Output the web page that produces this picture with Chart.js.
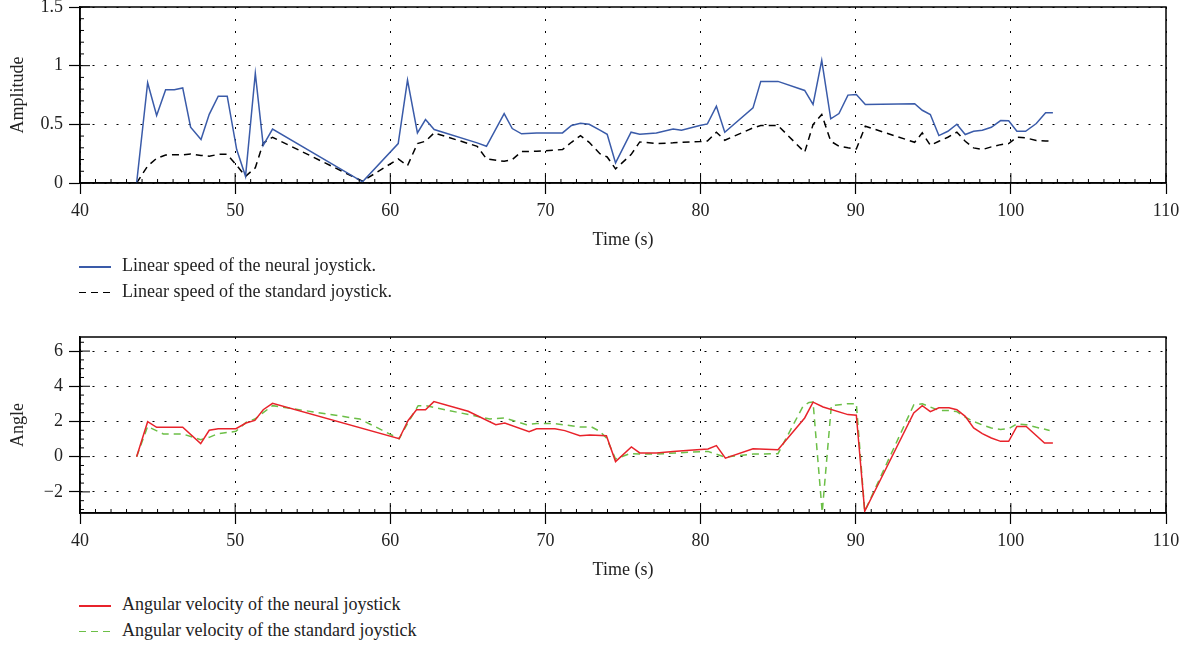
<!DOCTYPE html>
<html lang="en">

<head>
    <meta charset="UTF-8">
    <title>Linear speed and angular velocity</title>
    <script src="https://cdn.jsdelivr.net/npm/chart.js"></script>
    <style>
        body { margin: 0; background: #fff; font-family: "Liberation Serif", serif; color: #222; }
        .wrap { position: relative; width: 1199px; height: 647px; }
        canvas { position: absolute; left: 0; }
        .legend { position: absolute; left: 79px; font-size: 18px; }
        .legend div { height: 25.7px; line-height: 25.7px; white-space: nowrap; }
        .legend span { display: inline-block; width: 32px; height: 1.5px; vertical-align: middle; margin-right: 11px; }
    </style>
</head>

<body>
    <div class="wrap">
        <canvas id="speedChart" width="1199" height="255" style="top:0"></canvas>
        <div class="legend" style="top:253px">
            <div><span style="background:#3a5ba9"></span>Linear speed of the neural joystick.</div>
            <div><span style="background:repeating-linear-gradient(to right,#000 0 7px,transparent 7px 12px)"></span>Linear speed of the standard joystick.</div>
        </div>
        <canvas id="angleChart" width="1199" height="255" style="top:330px"></canvas>
        <div class="legend" style="top:592px">
            <div><span style="background:#e8232b"></span>Angular velocity of the neural joystick</div>
            <div><span style="background:repeating-linear-gradient(to right,#6cbf47 0 7px,transparent 7px 12px)"></span>Angular velocity of the standard joystick</div>
        </div>
    </div>
    <script>
        // top chart: time (s) and linear speed
        const timeLinear = [43.65, 44.36, 44.94, 45.52, 46.08, 46.62, 47.13, 47.80, 48.33, 48.91, 49.49, 50.10, 50.67, 51.30, 51.81, 52.41,
            58.21, 60.51, 61.11, 61.75, 62.27, 62.83, 65.60, 66.20, 67.34, 67.86, 68.46, 69.43, 71.10, 71.68, 72.26, 72.82, 73.51,
            73.98, 74.52, 75.52, 76.08, 77.15, 78.23, 78.77, 79.95, 80.44, 81.02, 81.56, 83.38, 83.88, 84.99, 86.71, 87.25, 87.81,
            88.39, 88.92, 89.50, 90.04, 90.62, 93.80, 94.29, 94.81, 95.36, 95.94, 96.52, 97.06, 97.60, 98.16, 98.74, 99.34, 99.86,
            100.39, 100.95, 101.64, 102.24, 102.71];
        const neuralLinear = [0, 0.855, 0.575, 0.795, 0.795, 0.81, 0.475, 0.37, 0.585, 0.74, 0.74, 0.285, 0.057, 0.935, 0.32, 0.46,
            0.01, 0.336, 0.877, 0.427, 0.541, 0.456, 0.342, 0.313, 0.592, 0.464, 0.419, 0.427, 0.427, 0.49, 0.51, 0.50, 0.45,
            0.415, 0.171, 0.433, 0.415, 0.427, 0.461, 0.45, 0.49, 0.504, 0.655, 0.433, 0.64, 0.866, 0.866, 0.789, 0.669, 1.045,
            0.547, 0.592, 0.749, 0.755, 0.669, 0.675, 0.62, 0.584, 0.404, 0.441, 0.501, 0.413, 0.441, 0.45, 0.475, 0.532, 0.53,
            0.441, 0.441, 0.507, 0.598, 0.598];
        const standardLinear = [0, 0.145, 0.21, 0.239, 0.24, 0.24, 0.248, 0.235, 0.228, 0.244, 0.244, 0.15, 0.057, 0.13, 0.34, 0.39,
            0.015, 0.205, 0.148, 0.336, 0.356, 0.427, 0.313, 0.205, 0.185, 0.199, 0.268, 0.27, 0.285, 0.347, 0.404, 0.347, 0.25,
            0.222, 0.12, 0.242, 0.35, 0.336, 0.342, 0.347, 0.353, 0.358, 0.433, 0.364, 0.47, 0.49, 0.49, 0.262, 0.498, 0.584,
            0.356, 0.313, 0.30, 0.29, 0.484, 0.347, 0.427, 0.321, 0.356, 0.39, 0.433, 0.356, 0.299, 0.285, 0.308, 0.327, 0.336,
            0.39, 0.385, 0.362, 0.358, 0.356];

        // bottom chart: angular velocity
        const timeAngNeural = [43.65, 44.36, 44.94, 46.62, 47.78, 48.33, 48.91, 50.05, 50.70, 51.27, 51.81, 52.41, 60.57, 61.15, 61.69,
            62.27, 62.81, 65.02, 66.80, 67.38, 68.95, 69.43, 70.61, 71.25, 72.22, 72.86, 73.93, 74.52, 75.54, 76.08, 77.15, 78.23,
            79.30, 80.48, 81.02, 81.60, 83.38, 84.99, 86.71, 87.25, 87.90, 89.50, 90.04, 90.58, 93.74, 94.29, 94.81, 95.36, 96.01,
            96.52, 97.06, 97.60, 98.16, 98.74, 99.34, 99.86, 100.39, 100.99, 102.17, 102.71];
        const neuralAngular = [0, 1.99, 1.67, 1.67, 0.74, 1.5, 1.59, 1.59, 1.91, 2.06, 2.67, 3.03, 1.02, 2.06, 2.67,
            2.67, 3.13, 2.58, 1.82, 1.91, 1.42, 1.59, 1.59, 1.48, 1.19, 1.23, 1.19, -0.28, 0.55, 0.21, 0.21, 0.30,
            0.36, 0.44, 0.63, -0.08, 0.45, 0.40, 2.2, 3.1, 2.82, 2.39, 2.36, -3.1, 2.48, 2.9, 2.56, 2.78, 2.78,
            2.67, 2.29, 1.63, 1.31, 1.06, 0.87, 0.87, 1.72, 1.72, 0.78, 0.78];
        const timeAngStandard = [43.65, 44.36, 45.37, 46.62, 47.78, 48.33, 48.91, 50.05, 50.70, 51.27, 51.81, 52.41, 58.04, 60.57, 61.15,
            61.80, 62.27, 66.42, 67.38, 68.78, 69.43, 70.61, 72.22, 72.97, 73.51, 73.93, 74.52, 75.44, 76.08, 77.15, 79.30, 80.48,
            81.56, 83.38, 84.99, 86.60, 86.99, 87.25, 87.84, 88.43, 89.50, 90.04, 90.58, 93.74, 94.29, 94.81, 95.36, 96.01, 96.52,
            97.06, 97.60, 98.16, 98.74, 99.34, 99.86, 100.39, 100.99, 101.64, 102.50];
        const standardAngular = [0, 1.72, 1.29, 1.29, 0.97, 1.1, 1.31, 1.44, 1.95, 2.14, 2.5, 2.9, 2.14, 1.02, 1.95,
            2.9, 2.9, 2.14, 2.2, 1.82, 1.88, 1.88, 1.69, 1.69, 1.44, 1.06, -0.13, 0.17, 0.15, 0.15, 0.25, 0.3,
            -0.02, 0.15, 0.17, 2.86, 3.08, 3.1, -3.16, 2.9, 3.01, 3.01, -3.1, 2.94, 3.01, 2.82, 2.63, 2.63, 2.56,
            2.25, 2.0, 1.8, 1.63, 1.55, 1.59, 1.86, 1.82, 1.67, 1.49];

        // axis ranges and tick labels
        const timeRange = [40, 110];
        const timeTicks = [40, 50, 60, 70, 80, 90, 100, 110];
        const speedRange = [0, 1.5];
        const speedTicks = [0, 0.5, 1, 1.5];
        const angleRange = [-3.2, 6.8];
        const angleTicks = [-2, 0, 2, 4, 6];

        const FONT = { family: "'Liberation Serif', serif", size: 18 };

        function points(xs, ys) {
            return xs.map((x, i) => ({ x: x, y: ys[i] }));
        }

        // frame round the plot plus small inner ticks
        const framePlugin = {
            id: 'frame',
            afterDraw(chart, args, opts) {
                const { ctx, chartArea: a, scales } = chart;
                ctx.save();
                ctx.strokeStyle = '#000';
                ctx.lineWidth = 1.5;
                ctx.strokeRect(a.left, a.top, a.width, a.height);
                ctx.lineWidth = 1;
                ctx.beginPath();
                const xs = scales.x, ys = scales.y;
                const nx = Math.round((xs.max - xs.min) / opts.xMinor);
                for (let i = 0; i <= nx; i++) {
                    const px = xs.getPixelForValue(xs.min + i * opts.xMinor);
                    const len = (i % opts.xEvery === 0) ? 10 : 4;
                    ctx.moveTo(px, a.bottom);
                    ctx.lineTo(px, a.bottom - len);
                }
                const start = Math.ceil(ys.min / opts.yMinor - 1e-9);
                const end = Math.floor(ys.max / opts.yMinor + 1e-9);
                for (let k = start; k <= end; k++) {
                    const py = ys.getPixelForValue(k * opts.yMinor);
                    const len = (k % opts.yEvery === 0) ? 10 : 4;
                    ctx.moveTo(a.left, py);
                    ctx.lineTo(a.left + len, py);
                }
                ctx.stroke();
                ctx.restore();
            }
        };

        function makeChart(id, datasets, yRange, yTicks, yTitle, frameOpts) {
            return new Chart(document.getElementById(id), {
                type: 'line',
                data: { datasets: datasets },
                options: {
                    responsive: false,
                    animation: false,
                    layout: { padding: { top: 7, right: 33, left: 0, bottom: 0 } },
                    plugins: {
                        legend: { display: false },
                        tooltip: { enabled: false },
                        frame: frameOpts
                    },
                    elements: { point: { radius: 0 }, line: { tension: 0 } },
                    scales: {
                        x: {
                            type: 'linear',
                            min: timeRange[0],
                            max: timeRange[1],
                            afterBuildTicks(s) { s.ticks = timeTicks.map(v => ({ value: v })); },
                            ticks: { color: '#222', font: FONT, padding: 6, maxRotation: 0 },
                            grid: { color: '#000', lineWidth: 1, tickColor: '#000', tickLength: 11, tickWidth: 1.2, tickBorderDash: [] },
                            border: { color: '#000', width: 1.5, dash: [2, 10] },
                            title: { display: true, text: 'Time (s)', color: '#222', font: FONT, padding: { top: 4, bottom: 4 } },
                            afterFit(s) { s.height = 72; s.paddingLeft = 0; s.paddingRight = 0; }
                        },
                        y: {
                            min: yRange[0],
                            max: yRange[1],
                            afterBuildTicks(s) { s.ticks = yTicks.map(v => ({ value: v })); },
                            ticks: {
                                color: '#222', font: FONT, padding: 6,
                                callback: v => String(v).replace('-', '\u2212')
                            },
                            grid: { color: '#000', lineWidth: 1, tickColor: '#000', tickLength: 11, tickWidth: 1.2, tickBorderDash: [] },
                            border: { color: '#000', width: 1.5, dash: [2, 10] },
                            title: { display: true, text: yTitle, color: '#222', font: FONT, padding: { top: 7, bottom: 0 } },
                            afterFit(s) { s.width = 80; s.paddingTop = 0; s.paddingBottom = 0; }
                        }
                    }
                },
                plugins: [framePlugin]
            });
        }

        makeChart('speedChart', [
            {
                label: 'Linear speed of the neural joystick.',
                data: points(timeLinear, neuralLinear),
                borderColor: '#3a5ba9',
                borderWidth: 1.5,
                fill: false
            },
            {
                label: 'Linear speed of the standard joystick.',
                data: points(timeLinear, standardLinear),
                borderColor: '#000',
                borderWidth: 1.5,
                borderDash: [7, 5],
                fill: false
            }
        ], speedRange, speedTicks, 'Amplitude', { xMinor: 1, xEvery: 10, yMinor: 0.1, yEvery: 5 });

        makeChart('angleChart', [
            {
                label: 'Angular velocity of the neural joystick',
                data: points(timeAngNeural, neuralAngular),
                borderColor: '#e8232b',
                borderWidth: 1.5,
                fill: false
            },
            {
                label: 'Angular velocity of the standard joystick',
                data: points(timeAngStandard, standardAngular),
                borderColor: '#6cbf47',
                borderWidth: 1.5,
                borderDash: [7, 5],
                fill: false
            }
        ], angleRange, angleTicks, 'Angle', { xMinor: 1, xEvery: 10, yMinor: 0.5, yEvery: 4 });
    </script>
</body>

</html>
